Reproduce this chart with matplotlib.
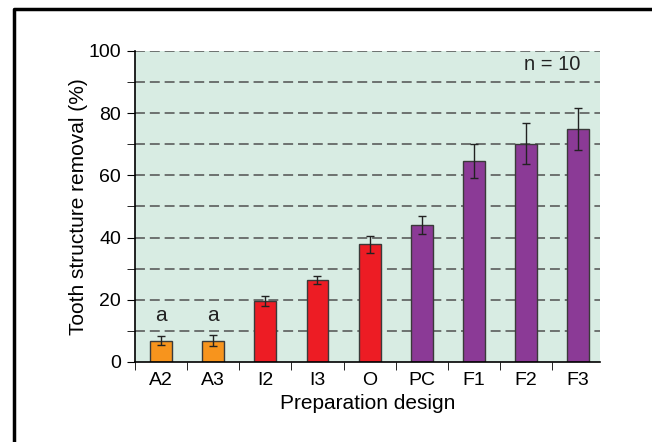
import matplotlib.pyplot as plt
from matplotlib.lines import Line2D
import numpy as np

plt.rcParams["font.family"] = ["Liberation Sans", "DejaVu Sans"]

designs = ["A2", "A3", "I2", "I3", "O", "PC", "F1", "F2", "F3"]
removal = [6.9, 6.9, 19.6, 26.4, 37.8, 44.0, 64.7, 70.2, 74.9]
errors = [1.5, 1.8, 1.7, 1.3, 2.8, 3.0, 5.5, 6.5, 6.7]
groups = ["A", "A", "I", "I", "I", "F", "F", "F", "F"]
group_colors = {"A": "#f7941d", "I": "#ed1c24", "F": "#8b3a96"}


def main():
    fig = plt.figure(figsize=(6.52, 4.42), dpi=100)

    # black frame round the figure (only left and top visible)
    fig.add_artist(Line2D([14 / 652, 14 / 652, 1.0], [0.0, 1 - 9 / 442, 1 - 9 / 442],
                          transform=fig.transFigure, color="black", lw=2.5))

    ax = fig.add_axes([135 / 652, 1 - 362 / 442, 465 / 652, 311 / 442])
    ax.set_facecolor("#d8ece3")

    x = np.arange(len(designs))
    cols = [group_colors[g] for g in groups]
    ax.bar(x, removal, width=0.42, color=cols, edgecolor="#3a3a3a", linewidth=1.0, zorder=3)
    ax.errorbar(x, removal, yerr=errors, fmt="none", ecolor="#222222",
                elinewidth=1.0, capsize=3, capthick=1.0, zorder=4)

    # dashed grid
    for yv in range(10, 101, 10):
        ax.axhline(yv, color="#505050", lw=1.1, ls=(0, (6.5, 3.2)), zorder=1)

    ax.set_xlim(-0.5, 8.42)
    ax.set_ylim(0, 100)
    ax.set_yticks(range(0, 101, 20))
    ax.set_yticks(range(10, 100, 20), minor=True)
    ax.set_xticks(x)
    ax.set_xticklabels(designs)
    ax.set_xticks(np.arange(-0.5, 8.0, 1.0), minor=True)
    ax.tick_params(axis="x", which="major", length=0, labelsize=14, pad=7)
    ax.tick_params(axis="x", which="minor", length=6, direction="out")
    ax.tick_params(axis="y", which="both", length=6, direction="out", labelsize=14, pad=4)

    for s in ["top", "right"]:
        ax.spines[s].set_visible(False)
    for s in ["left", "bottom"]:
        ax.spines[s].set_linewidth(1.2)
        ax.spines[s].set_zorder(5)

    ax.text(0, 15, "a", ha="center", va="center", fontsize=15, color="#222222")
    ax.text(1, 15, "a", ha="center", va="center", fontsize=15, color="#222222")
    ax.text(7.5, 95.5, "n = 10", ha="center", va="center", fontsize=14.5, color="#222222")

    ax.set_xlabel("Preparation design", fontsize=15, labelpad=4)
    ax.set_ylabel("Tooth structure removal (%)", fontsize=15, labelpad=0)

    fig.savefig("out.png", dpi=100)


if __name__ == "__main__":
    main()
